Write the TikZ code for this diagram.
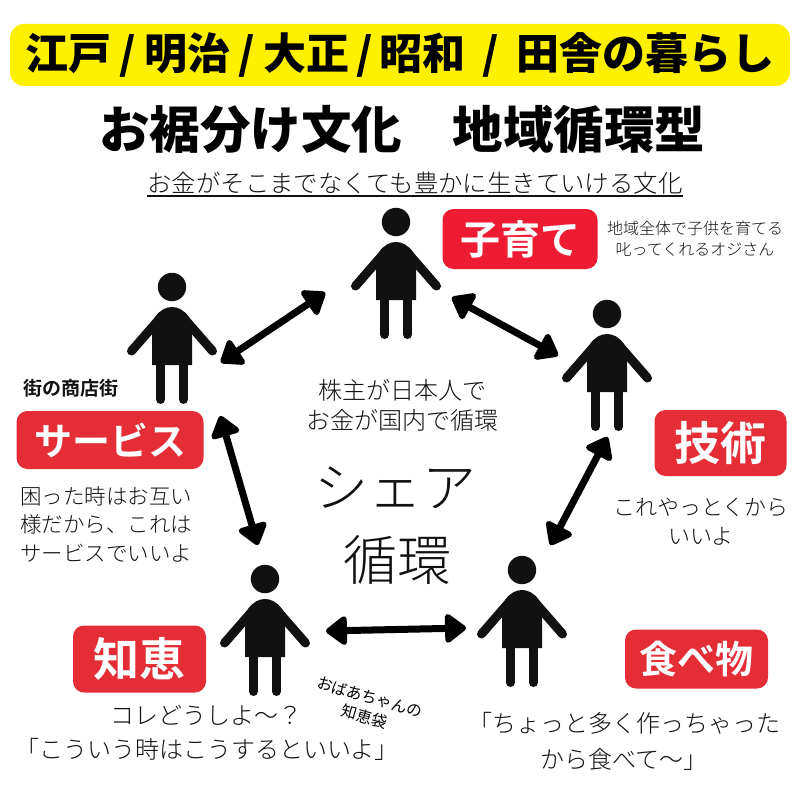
\documentclass[tikz,border=0pt]{standalone}
\usepackage{fontspec}
\usetikzlibrary{arrows.meta}
\setmainfont{Noto Sans CJK JP}[BoldFont={Noto Sans CJK JP Black}]
\newfontfamily\lightcjk{Noto Sans CJK JP Light}
\newfontfamily\boldcjk{Noto Sans CJK JP Bold}
\definecolor{banner}{HTML}{FFF000}
\definecolor{tagred}{HTML}{E52D36}
\definecolor{tagbright}{HTML}{EE1C33}
\definecolor{ink}{HTML}{111111}
\newcommand{\fs}[1]{\fontsize{#1}{#1}\selectfont}
\newcommand{\eraslash}[1]{\makebox[#1][c]{/}}
\tikzset{
  x=1pt, y=-1pt,
  tag/.style={fill=tagred, rounded corners=11pt, text=white, inner sep=0pt, font=\boldcjk},
  caption/.style={inner sep=0pt, align=center, text=ink, font=\lightcjk},
  link/.style={line width=7pt, draw=black, {Triangle[length=23pt,width=33pt,round]}-{Triangle[length=23pt,width=33pt,round]}, shorten <=1pt, shorten >=1pt},
  person/.pic={
    \fill[ink] (0,0) circle (14.2);
    \fill[ink] (-20,78) -- (-20,42) -- (-17,30) .. controls (-12,23) and (-6,20) .. (0,20)
      .. controls (6,20) and (12,23) .. (17,30) -- (20,42) -- (20,78) -- cycle;
    \draw[ink, line width=9pt, line cap=round] (-13.5,33) -- (-40.5,64);
    \draw[ink, line width=9pt, line cap=round] (13.5,33) -- (40.5,64);
    \draw[ink, line width=9pt, line cap=round] (-11.5,78) -- (-11.5,112.5);
    \draw[ink, line width=9pt, line cap=round] (11.5,78) -- (11.5,112.5);
  }
}
\begin{document}
\begin{tikzpicture}
\useasboundingbox (0,0) rectangle (800,800);
\fill[white] (0,0) rectangle (800,800);

% Header
\node[fill=banner, rounded corners=14pt, minimum width=780pt, minimum height=62pt, inner sep=0pt] (banner) at (400,55) {};
\node[inner sep=0pt, font=\bfseries\fs{43}] (era) at (400,55) {江戸\eraslash{33pt}明治\eraslash{33pt}大正\eraslash{30pt}昭和\eraslash{51pt}田舎の暮らし};
\node[inner sep=0pt, font=\bfseries\fs{50.5}] (headline) at (402,129) {お裾分け文化　地域循環型};
\node[caption, font=\lightcjk\fs{24.4}] (motto) at (415,183) {お金がそこまでなくても豊かに生きていける文化};
\draw[ink, line width=1.2pt] (147,196) -- (683,196);

% People around the ring
\pic (p1) at (396,222) {person};
\pic (p2) at (172,287) {person};
\pic (p3) at (607,314) {person};
\pic (p4) at (265,579) {person};
\pic (p5) at (522,570) {person};

% Arrow end points
\coordinate (a1) at (220,363);
\coordinate (a2) at (326,292);
\coordinate (b1) at (451,297);
\coordinate (b2) at (559,356);
\coordinate (c1) at (220,415);
\coordinate (c2) at (258,546);
\coordinate (d1) at (608,436);
\coordinate (d2) at (550,546);
\coordinate (e1) at (325,631);
\coordinate (e2) at (467,628);
\draw[link] (a1) -- (a2);
\draw[link] (b1) -- (b2);
\draw[link] (c1) -- (c2);
\draw[link] (d1) -- (d2);
\draw[link] (e1) -- (e2);

% Centre
\node[caption, font=\lightcjk\fs{24}, align=center] (owners) at (402,405) {株主が日本人で\\[6pt]お金が国内で循環};
\node[caption, font=\lightcjk\fs{54}] (share) at (395,488) {シェア};
\node[caption, font=\lightcjk\fs{54}] (cycle) at (397,560) {循環};

% Childcare
\node[tag, fill=tagbright, minimum width=155pt, minimum height=60pt, font=\boldcjk\fs{40}] (kids) at (520,239) {子育て};
\node[caption, font=\lightcjk\fs{16}] (kidsnote) at (695,239) {地域全体で子供を育てる\\[5pt]叱ってくれるオジさん};

% Skills
\node[tag, minimum width=132pt, minimum height=66pt, font=\boldcjk\fs{46}] (skill) at (720.5,443) {技術};
\node[caption, font=\lightcjk\fs{22}] (skillnote) at (701,522) {これやっとくから\\[7pt]いいよ};

% Services
\node[inner sep=0pt, text=ink, font=\boldcjk\fs{19}] (street) at (71,388) {街の商店街};
\node[tag, minimum width=187pt, minimum height=58pt, font=\boldcjk\fs{38}] (service) at (110,440) {サービス};
\node[caption, align=left, font=\lightcjk\fs{21.5}] (servicenote) at (106,524) {困った時はお互い\\[7pt]様だから、これは\\[7pt]サービスでいいよ};

% Wisdom
\node[tag, minimum width=133pt, minimum height=67pt, font=\boldcjk\fs{46}] (wisdom) at (139.5,659) {知恵};
\node[caption, font=\lightcjk\fs{24}] (wisdomnote) at (207,733) {コレどうしよ〜？\\[10pt]「こういう時はこうするといいよ」};
\node[inner sep=0pt, align=center, text=black, rotate=-16, font=\fs{15.5}] (bag) at (367,707) {おばあちゃんの\\[5pt]知恵袋};

% Food
\node[tag, minimum width=143pt, minimum height=59pt, font=\boldcjk\fs{38}] (food) at (696.5,659) {食べ物};
\node[caption, font=\lightcjk\fs{24}] (foodnote) at (624,741) {「ちょっと多く作っちゃった\\[12pt]から食べて〜」};
\end{tikzpicture}
\end{document}
